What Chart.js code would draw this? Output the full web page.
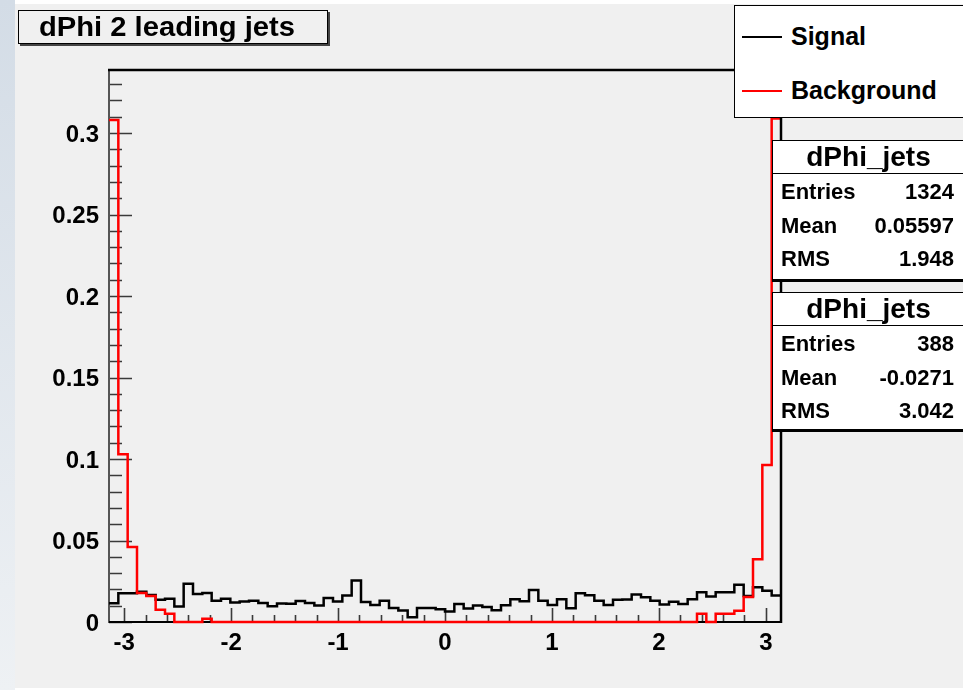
<!DOCTYPE html>
<html>
<head>
<meta charset="utf-8">
<script src="https://cdn.jsdelivr.net/npm/chart.js@4.4.1/dist/chart.umd.min.js"></script>
<style>
  html, body { margin: 0; padding: 0; width: 963px; height: 690px; overflow: hidden; background: #ffffff; }
  body { position: relative; font-family: "Liberation Sans", Arial, sans-serif; font-weight: bold; color: #000; }
  #edge { position: absolute; left: 0; top: 0; width: 15px; height: 690px; background: linear-gradient(#d3dce6, #eef1f4); }
  #pad { position: absolute; left: 15px; top: 4px; width: 948px; height: 684px; background: #f0f0f0; }
  #c { position: absolute; left: 0; top: 0; }
  .box { position: absolute; box-sizing: border-box; border: 1.5px solid #000; }
  .t { position: absolute; white-space: nowrap; }
  .sep { position: absolute; left: 0; right: 0; height: 0; border-top: 1.5px solid #000; }
  .key { position: absolute; height: 2px; width: 40px; }
</style>
</head>
<body>
<div id="edge"></div>
<div id="pad"></div>
<canvas id="c" width="963" height="690"></canvas>

<div class="box" id="titleBox" style="left:18px;top:10px;width:310px;height:34px;background:#f0f0f0;box-shadow:2px 2px 0 #444;">
  <div class="t" id="titleText" style="left:20px;top:0;font-size:27px;line-height:32px;transform:scaleX(1.08);transform-origin:0 50%;"></div>
</div>

<div class="box" id="legendBox" style="left:734px;top:5px;width:232px;height:113px;background:#fff;"></div>

<div class="box" id="stat1" style="left:772px;top:140px;width:193px;height:140px;background:#fff;box-shadow:0 2px 0 #000;"></div>
<div class="box" id="stat2" style="left:772px;top:292px;width:193px;height:138px;background:#fff;box-shadow:0 2px 0 #000;"></div>

<script>
// dPhi between the two leading jets, 72 bins over [-pi, pi], normalised
const histTitle = 'dPhi 2 leading jets';
const seriesNames = ['Signal', 'Background'];
const seriesColors = ['#000000', '#ff0000'];

const signalValues = [
  0.0115, 0.0177, 0.0177, 0.0186, 0.0166, 0.0136, 0.0142, 0.0095, 0.0235, 0.0172,
  0.0178, 0.0131, 0.0142, 0.0120, 0.0126, 0.0131, 0.0116, 0.0096, 0.0114, 0.0112,
  0.0129, 0.0116, 0.0102, 0.0147, 0.0126, 0.0163, 0.0255, 0.0122, 0.0104, 0.0131,
  0.0086, 0.0070, 0.0029, 0.0086, 0.0086, 0.0078, 0.0065, 0.0110, 0.0083, 0.0101,
  0.0092, 0.0072, 0.0103, 0.0139, 0.0127, 0.0197, 0.0131, 0.0105, 0.0140, 0.0085,
  0.0177, 0.0164, 0.0131, 0.0104, 0.0136, 0.0138, 0.0169, 0.0152, 0.0130, 0.0108,
  0.0124, 0.0110, 0.0140, 0.0182, 0.0157, 0.0183, 0.0183, 0.0229, 0.0160, 0.0213,
  0.0192, 0.0162
];

const backgroundValues = [
  0.308, 0.103, 0.046, 0.0178, 0.0160, 0.0075, 0.0050, 0, 0, 0,
  0.0020, 0, 0, 0, 0, 0, 0, 0, 0, 0,
  0, 0, 0, 0, 0, 0, 0, 0, 0, 0,
  0, 0, 0, 0, 0, 0, 0, 0, 0, 0,
  0, 0, 0, 0, 0, 0, 0, 0, 0, 0,
  0, 0, 0, 0, 0, 0, 0, 0, 0, 0,
  0, 0, 0, 0.0050, 0, 0.0050, 0.0050, 0.0069, 0.0153, 0.0385,
  0.0963, 0.309
];

const xTickValues = [-3, -2, -1, 0, 1, 2, 3];
const yTickValues = [0, 0.05, 0.1, 0.15, 0.2, 0.25, 0.3];

const statTitle = 'dPhi_jets';
const statLabels = ['Entries', 'Mean', 'RMS'];
const signalStats = ['1324', '0.05597', '1.948'];
const backgroundStats = ['388', '-0.0271', '3.042'];

const xMin = -Math.PI, xMax = Math.PI;
const yMax = 0.3387;

// histogram outline: one point per bin low edge, plus the upper edge of the last bin
function toSteps(values) {
  const w = (xMax - xMin) / values.length;
  const pts = values.map((v, i) => ({ x: xMin + i * w, y: v }));
  pts.push({ x: xMax, y: values[values.length - 1] });
  return pts;
}

// frame, inward ticks and axis lines in the ROOT style
const framePlugin = {
  id: 'frame',
  beforeDatasetsDraw(chart) {
    const { ctx, chartArea: a, scales: { x, y } } = chart;
    ctx.save();
    ctx.strokeStyle = '#3a3a3a';
    ctx.lineWidth = 1.6;
    ctx.beginPath();
    for (let k = 0; k <= 33; k++) {
      const py = Math.round(y.getPixelForValue(k / 100)) + 0.5;
      const len = k % 5 === 0 ? 23 : 13;
      ctx.moveTo(a.left, py); ctx.lineTo(a.left + len, py);
    }
    for (let k = -15; k <= 15; k++) {
      const px = Math.round(x.getPixelForValue(k / 5)) + 0.5;
      const len = k % 5 === 0 ? 14 : 7;
      ctx.moveTo(px, a.bottom); ctx.lineTo(px, a.bottom - len);
    }
    ctx.stroke();
    ctx.lineWidth = 2;
    ctx.strokeStyle = '#555';
    ctx.beginPath();
    ctx.moveTo(a.left, a.top); ctx.lineTo(a.left, a.bottom + 1);
    ctx.stroke();
    ctx.strokeStyle = '#000';
    ctx.beginPath();
    ctx.moveTo(a.left, a.bottom); ctx.lineTo(a.right, a.bottom);
    ctx.stroke();
    ctx.restore();
  },
  afterDatasetsDraw(chart) {
    const { ctx, chartArea: a } = chart;
    ctx.save();
    ctx.strokeStyle = '#000';
    ctx.lineWidth = 2.5;
    ctx.beginPath();
    ctx.moveTo(a.left - 1, a.top); ctx.lineTo(a.right, a.top); ctx.lineTo(a.right, a.bottom + 1);
    ctx.stroke();
    ctx.restore();
  }
};

const tickFont = { family: '"Liberation Sans", Arial, sans-serif', size: 24, weight: 'bold' };

new Chart(document.getElementById('c'), {
  type: 'line',
  data: {
    datasets: [
      { label: seriesNames[1], data: toSteps(backgroundValues), borderColor: seriesColors[1], borderWidth: 2.5,
        stepped: true, pointRadius: 0, fill: false, clip: { left: 2, top: 0, right: 2, bottom: 2 } },
      { label: seriesNames[0], data: toSteps(signalValues), borderColor: seriesColors[0], borderWidth: 2.5,
        stepped: true, pointRadius: 0, fill: false, clip: { left: 2, top: 0, right: 2, bottom: 2 } }
    ]
  },
  options: {
    responsive: false,
    animation: false,
    events: [],
    layout: { padding: { top: 70, right: 182, left: 0, bottom: 0 } },
    plugins: { legend: { display: false }, tooltip: { enabled: false } },
    scales: {
      x: {
        type: 'linear', min: xMin, max: xMax,
        afterBuildTicks: s => { s.ticks = xTickValues.map(v => ({ value: v })); },
        afterFit: s => { s.height = 68; },
        grid: { display: false }, border: { display: false },
        ticks: { font: tickFont, color: '#000', padding: -1, maxRotation: 0, autoSkip: false,
                 callback: v => String(v) }
      },
      y: {
        type: 'linear', min: 0, max: yMax,
        afterBuildTicks: s => { s.ticks = yTickValues.map(v => ({ value: v })); },
        afterFit: s => { s.width = 109; },
        grid: { display: false }, border: { display: false },
        ticks: { font: tickFont, color: '#000', padding: 2, labelOffset: 2, autoSkip: false,
                 callback: v => String(Number(v.toFixed(2))) }
      }
    }
  },
  plugins: [framePlugin]
});

// title, legend and statistics boxes
document.getElementById('titleText').textContent = histTitle;

function addText(parent, text, css) {
  const d = document.createElement('div');
  d.className = 't';
  d.textContent = text;
  Object.assign(d.style, css);
  parent.appendChild(d);
  return d;
}

const legend = document.getElementById('legendBox');
[31, 85].forEach((cy, i) => {
  const k = document.createElement('div');
  k.className = 'key';
  k.style.left = '7px';
  k.style.top = (cy - 1) + 'px';
  k.style.background = seriesColors[i];
  legend.appendChild(k);
  addText(legend, seriesNames[i], { left: '56px', top: (cy - 16) + 'px', fontSize: '25px', lineHeight: '30px' });
});

function fillStats(box, values) {
  addText(box, statTitle, { left: '0', width: '191px', textAlign: 'center', top: '0', fontSize: '28px', lineHeight: '32px' });
  const sep = document.createElement('div');
  sep.className = 'sep';
  sep.style.top = '32px';
  box.appendChild(sep);
  const rows = [51, 85, 118];
  statLabels.forEach((lab, i) => {
    addText(box, lab, { left: '8px', top: (rows[i] - 14) + 'px', fontSize: '22px', lineHeight: '28px' });
    addText(box, values[i], { right: '10px', top: (rows[i] - 14) + 'px', fontSize: '22px', lineHeight: '28px', textAlign: 'right' });
  });
}
fillStats(document.getElementById('stat1'), signalStats);
fillStats(document.getElementById('stat2'), backgroundStats);
</script>
</body>
</html>
